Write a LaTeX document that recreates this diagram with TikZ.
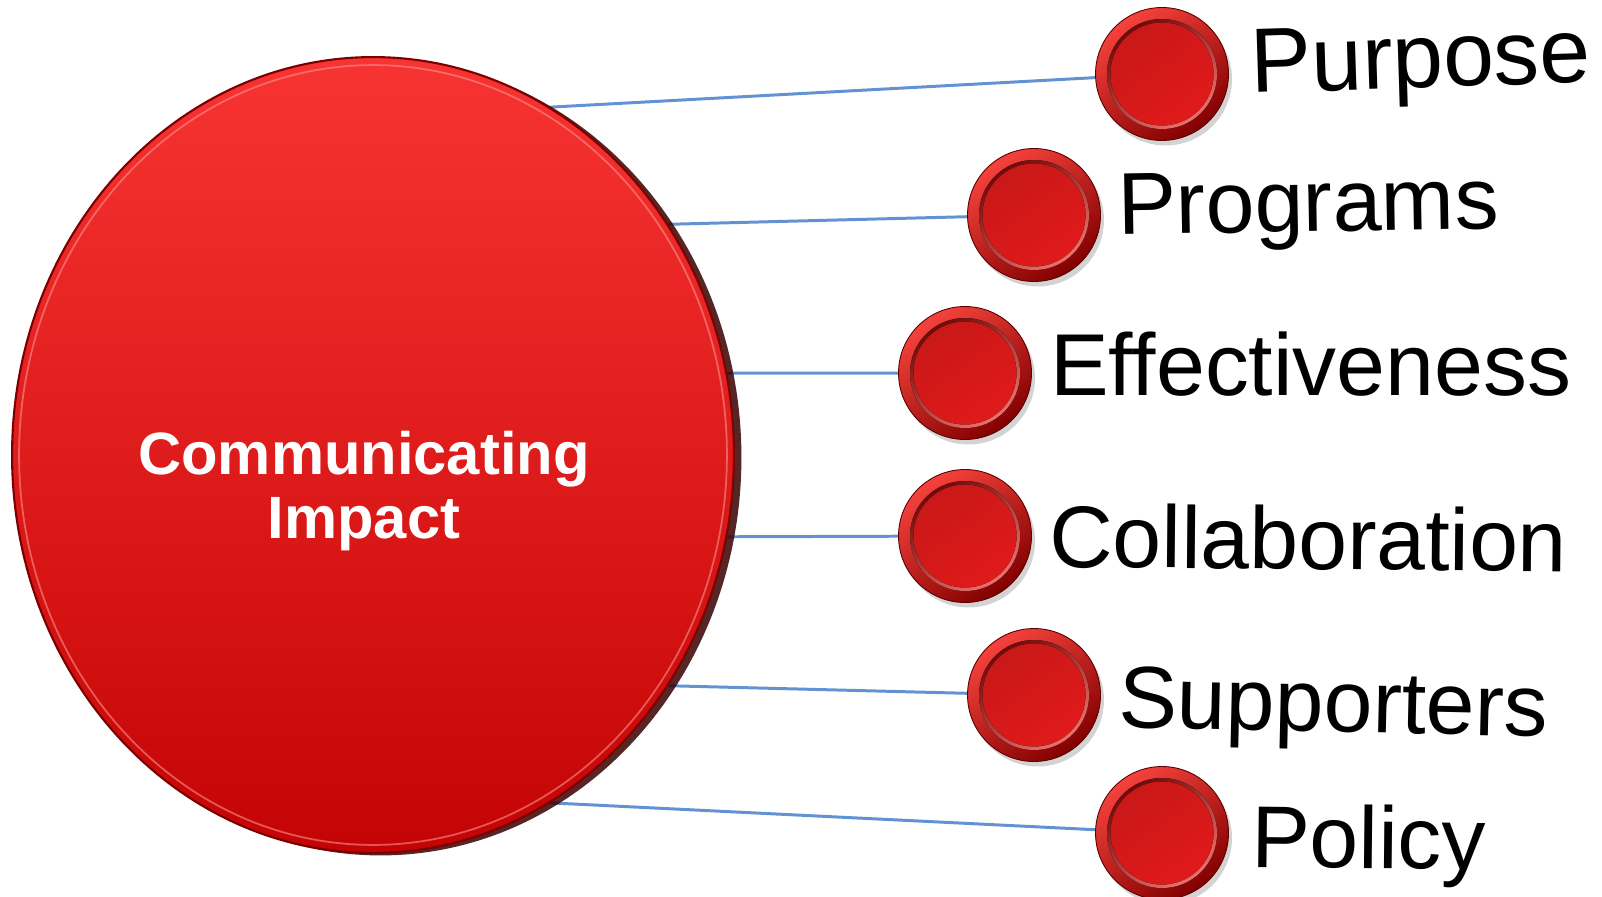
\documentclass[tikz,border=0pt]{standalone}
\usepackage{fontspec}
\setmainfont{Liberation Sans}
\usepackage{tikz}
\usetikzlibrary{positioning,shapes.geometric,shadows}
\definecolor{discTop}{RGB}{248,52,50}
\definecolor{discBot}{RGB}{196,4,4}
\definecolor{discRim}{RGB}{125,0,0}
\definecolor{btnHi}{RGB}{246,66,60}
\definecolor{btnLo}{RGB}{130,0,0}
\definecolor{btnFace}{RGB}{224,26,26}
\definecolor{spokeBlue}{RGB}{98,146,210}
\pgfdeclarelayer{back}
\pgfsetlayers{back,main}

\begin{document}
\begin{tikzpicture}[x=0.02cm,y=-0.02cm,
  hub/.style={ellipse,minimum width=14.44cm,minimum height=15.92cm,inner sep=0pt,
              top color=discTop,bottom color=discBot,draw=discRim,line width=1.2pt,
              drop shadow={shadow xshift=0.15cm,shadow yshift=-0.05cm,fill=discRim!45!black,opacity=0.85},
              path picture={\draw[discTop!55!white,line width=1pt,opacity=0.6]
                (path picture bounding box.center) ellipse [x radius=7.08cm,y radius=7.8cm];}},
  title/.style={align=center,text=white,font=\bfseries\fontsize{34}{36}\selectfont},
  button/.style={circle,minimum size=2.66cm,inner sep=0pt,
              top color=btnHi,bottom color=btnLo,shading angle=35,
              draw=btnLo!70!black,line width=0.5pt,
              drop shadow={shadow xshift=0.07cm,shadow yshift=-0.1cm,opacity=0.35},
              path picture={
                \fill[top color=btnLo!75!black,bottom color=btnHi!70!white,shading angle=35]
                  (path picture bounding box.center) circle (1.1cm);
                \fill[top color=btnFace!90!black,bottom color=btnFace,shading angle=35]
                  (path picture bounding box.center) circle (1.03cm);}},
  tag/.style={anchor=base west,inner sep=0pt,font=\fontsize{50}{58}\selectfont},
  spoke/.style={draw=spokeBlue,line width=1.7pt}
]
\useasboundingbox (0,0) rectangle (1602,896);
% central disc
\node[hub] (hub) at (373,455) {};
\node[title] (title) at (364,491) {Communicating\\Impact};
% topic buttons
\node[button] (purpose) at (1162,74) {};
\node[button] (programs) at (1034,215) {};
\node[button] (effect) at (965,373) {};
\node[button] (collab) at (965,536) {};
\node[button] (support) at (1034,695) {};
\node[button] (policy) at (1162,833) {};
% topic names
\node[tag,rotate=1.8,font=\fontsize{52}{58}\selectfont] (tPurpose) at (1251,93) {Purpose};
\node[tag,rotate=1] (tPrograms) at (1118,235) {Programs};
\node[tag] (tEffect) at (1050,395) {Effectiveness};
\node[tag,rotate=-0.5] (tCollab) at (1049,567) {Collaboration};
\node[tag,rotate=-1.3] (tSupport) at (1118,727) {Supporters};
\node[tag,rotate=-0.6] (tPolicy) at (1251,867) {Policy};
% spokes from the disc rim
\begin{pgfonlayer}{back}
\draw[spoke] (hub.63) -- (purpose);
\draw[spoke] (hub.38) -- (programs);
\draw[spoke] (hub.13) -- (effect);
\draw[spoke] (hub.-13) -- (collab);
\draw[spoke] (hub.-38) -- (support);
\draw[spoke] (hub.-63) -- (policy);
\end{pgfonlayer}
\end{tikzpicture}
\end{document}
